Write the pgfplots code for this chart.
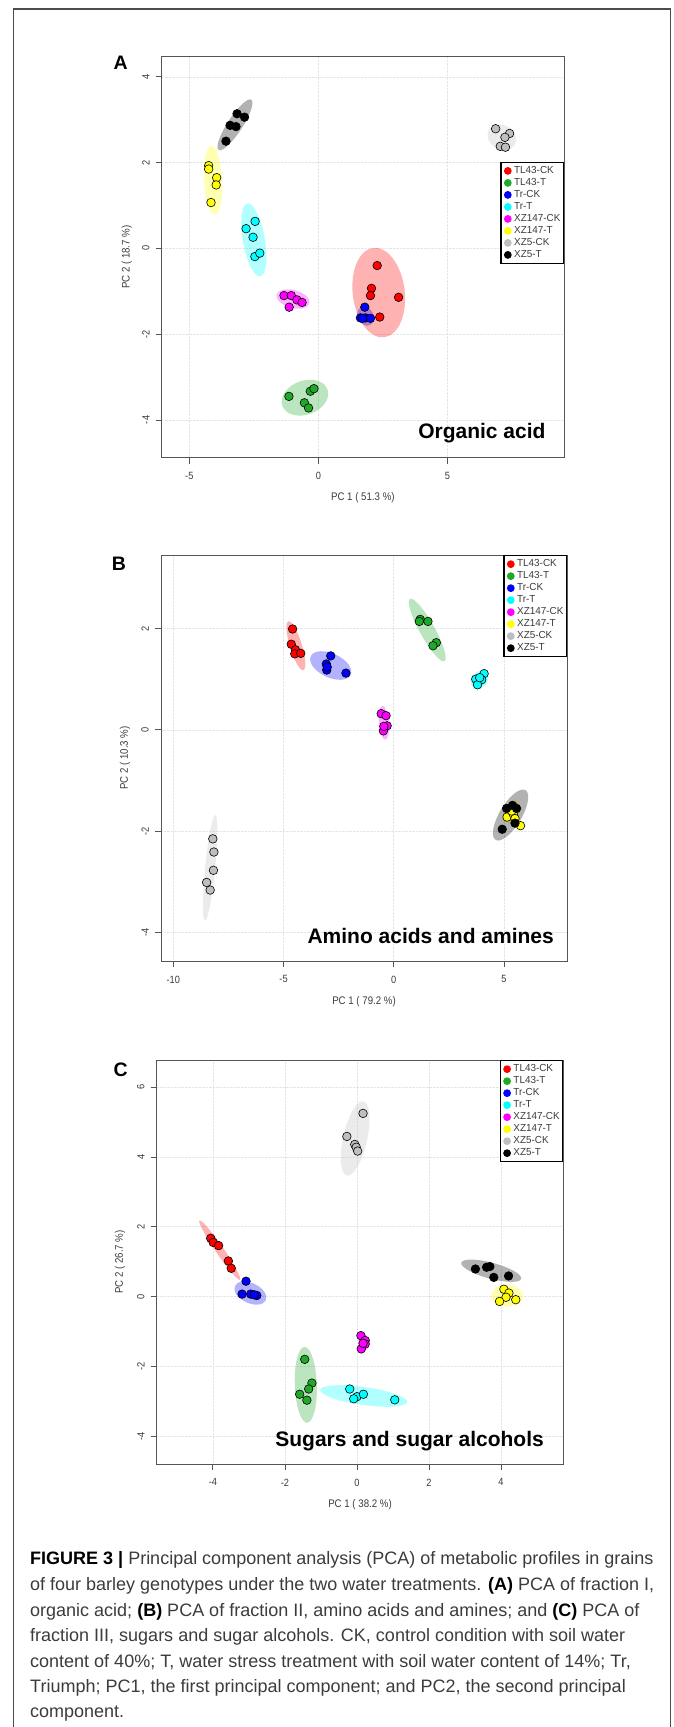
\documentclass[border=0pt]{standalone}
\usepackage{pgfplots}
\pgfplotsset{compat=1.18}
\usepackage{fontspec}
\setmainfont{Liberation Sans}
\newfontfamily\narrowfont[FakeStretch=0.88]{Liberation Sans}
\newfontfamily\legfont[FakeStretch=0.97]{Liberation Sans}
\definecolor{grp1}{RGB}{255,0,0}
\definecolor{grp2}{RGB}{30,170,40}
\definecolor{grp3}{RGB}{0,0,255}
\definecolor{grp4}{RGB}{0,255,255}
\definecolor{grp5}{RGB}{255,0,255}
\definecolor{grp6}{RGB}{255,255,0}
\definecolor{grp7}{RGB}{190,190,190}
\definecolor{grp8}{RGB}{0,0,0}
\definecolor{axgray}{RGB}{85,85,85}
\definecolor{txtgray}{RGB}{60,60,60}

\pgfplotsset{
 pcastyle/.style={
  scale only axis, anchor=south west,
  axis line style={draw=axgray, line width=0.9pt},
  tick pos=left, tick align=outside, major tick length=6pt,
  tick style={draw=axgray, line width=0.8pt},
  grid=major, major grid style={draw=black!10, densely dotted, line width=0.6pt},
  tick label style={font=\narrowfont\fontsize{10.5}{12}\selectfont, text=txtgray},
  yticklabel style={rotate=90, anchor=south, inner sep=0pt},
  xticklabel style={anchor=north, inner sep=0pt},
  xticklabel shift=8.5pt, yticklabel shift=6pt,
  label style={font=\narrowfont\fontsize{11}{13}\selectfont, text=txtgray},
  xlabel style={anchor=center},
  ylabel style={anchor=center},
  legend style={draw=black, line width=1.3pt, fill=white,
    font=\legfont\fontsize{10.2}{12}\selectfont, text=txtgray,
    inner xsep=3pt, inner ysep=2.5pt, row sep=0pt, column sep=2.5pt,
    nodes={inner sep=0pt, text height=8.2pt, text depth=3.8pt}},
  legend cell align=left,
  legend image code/.code={\fill (0pt,0pt) circle (3.2pt);},
 }
}
\newcommand\ellip[6]{\addplot[forget plot, only marks, mark=*, mark size=1pt,
  mark options={draw opacity=0, fill=#1, fill opacity=0.3, rotate=#4, xscale=#5, yscale=#6}]
  coordinates {(#2,#3)};}
\newcommand\pts[2]{\addplot[forget plot, only marks, mark=*, mark size=4.3pt,
  mark options={draw=black, line width=0.6pt, fill=#1}] coordinates {#2};}
\newcommand\legs{%
  \addlegendimage{grp1}\addlegendentry{TL43-CK}
  \addlegendimage{grp2}\addlegendentry{TL43-T}
  \addlegendimage{grp3}\addlegendentry{Tr-CK}
  \addlegendimage{grp4}\addlegendentry{Tr-T}
  \addlegendimage{grp5}\addlegendentry{XZ147-CK}
  \addlegendimage{grp6}\addlegendentry{XZ147-T}
  \addlegendimage{grp7}\addlegendentry{XZ5-CK}
  \addlegendimage{grp8}\addlegendentry{XZ5-T}}

\begin{document}
\begin{tikzpicture}
\useasboundingbox (0,0) rectangle (673pt,-1727pt);
\fill[white] (0,0) rectangle (673pt,-1727pt);
\draw[line width=1.3pt, draw=black!70] (13.3pt,-1727pt) -- (13.3pt,-9pt) -- (670.5pt,-9pt) -- (670.5pt,-1727pt);

% ---------------- Panel A ----------------
\begin{axis}[pcastyle, at={(161.7pt,-457.7pt)}, width=402.3pt, height=401pt,
  xmin=-6.07, xmax=9.52, ymin=-4.88, ymax=4.47,
  xtick={-5,0,5}, xticklabels={-5,0,5},
  ytick={-4,-2,0,2,4}, yticklabels={-4,-2,0,2,4},
  xlabel={PC 1 ( 51.3 \%)}, ylabel={PC 2 ( 18.7 \%)},
  xlabel style={at={(axis description cs:0.5,-0.0998)}},
  ylabel style={at={(axis description cs:-0.087,0.5)}},
  legend style={at={(1,0.738)}, anchor=north east}]
\legs
\ellip{grp1}{2.34}{-1.03}{97}{45}{26}
\ellip{grp2}{-0.52}{-3.48}{20}{24}{17}
\ellip{grp3}{1.83}{-1.58}{-60}{10}{8}
\ellip{grp4}{-2.50}{0.20}{100}{37}{11}
\ellip{grp5}{-0.98}{-1.18}{-15}{17}{9}
\ellip{grp6}{-4.08}{1.59}{93}{34.5}{9}
\ellip{grp7}{7.11}{2.59}{-30}{15}{12}
\ellip{grp8}{-3.23}{2.88}{57}{30}{7.5}
\pts{grp1}{(2.28,-0.40)(2.06,-0.93)(2.02,-1.10)(3.11,-1.14)(2.38,-1.60)}
\pts{grp2}{(-1.14,-3.45)(-0.54,-3.60)(-0.38,-3.72)(-0.31,-3.33)(-0.17,-3.27)}
\pts{grp3}{(1.80,-1.37)(1.63,-1.62)(1.83,-1.62)(2.02,-1.63)(1.71,-1.63)}
\pts{grp4}{(-2.80,0.46)(-2.45,0.63)(-2.53,0.26)(-2.46,-0.19)(-2.27,-0.11)}
\pts{grp5}{(-1.33,-1.10)(-1.05,-1.10)(-0.83,-1.20)(-0.63,-1.26)(-1.13,-1.37)}
\pts{grp6}{(-4.25,1.93)(-4.25,1.85)(-3.94,1.65)(-3.96,1.48)(-4.16,1.07)}
\pts{grp7}{(6.87,2.79)(7.41,2.68)(7.23,2.59)(7.05,2.38)(7.25,2.36)}
\pts{grp8}{(-3.58,2.50)(-3.42,2.87)(-3.19,2.84)(-3.15,3.14)(-2.86,3.06)}
\end{axis}

% ---------------- Panel B ----------------
\begin{axis}[pcastyle, at={(161pt,-961pt)}, width=406pt, height=406pt,
  xmin=-10.56, xmax=7.86, ymin=-4.56, ymax=3.45,
  xtick={-10,-5,0,5}, xticklabels={-10,-5,0,5},
  ytick={-4,-2,0,2}, yticklabels={-4,-2,0,2},
  xlabel={PC 1 ( 79.2 \%)}, ylabel={PC 2 ( 10.3 \%)},
  xlabel style={at={(axis description cs:0.5,-0.100)}},
  ylabel style={at={(axis description cs:-0.0887,0.5)}},
  legend style={at={(1,1)}, anchor=north east}]
\legs
\ellip{grp1}{-4.44}{1.66}{107}{25.6}{6}
\ellip{grp2}{1.52}{1.97}{119}{35.6}{7.5}
\ellip{grp3}{-2.86}{1.27}{-25}{22}{12}
\ellip{grp4}{3.89}{0.99}{45}{10}{8}
\ellip{grp5}{-0.45}{0.14}{95}{17}{5}
\ellip{grp6}{5.35}{-1.61}{60}{12}{8}
\ellip{grp7}{-8.33}{-2.72}{84.4}{53}{5}
\ellip{grp8}{5.30}{-1.68}{59}{29}{11}
\pts{grp1}{(-4.59,1.99)(-4.65,1.69)(-4.46,1.58)(-4.49,1.50)(-4.22,1.51)}
\pts{grp2}{(1.20,2.18)(1.55,2.14)(1.16,2.14)(1.93,1.72)(1.78,1.66)}
\pts{grp3}{(-2.86,1.46)(-3.06,1.30)(-3.04,1.18)(-2.17,1.12)(-3.02,1.24)}
\pts{grp4}{(3.72,1.00)(4.10,1.11)(3.99,0.99)(3.80,0.89)(3.90,1.03)}
\pts{grp5}{(-0.57,0.32)(-0.35,0.28)(-0.30,0.08)(-0.47,-0.02)(-0.45,0.07)}
\pts{grp6}{(5.14,-1.72)(5.75,-1.89)(5.42,-1.66)(5.35,-1.60)(5.50,-1.75)}
\pts{grp7}{(-8.21,-2.15)(-8.16,-2.41)(-8.18,-2.77)(-8.49,-3.01)(-8.33,-3.16)}
\pts{grp8}{(5.12,-1.55)(5.39,-1.49)(5.57,-1.55)(5.50,-1.84)(4.92,-1.96)}
\end{axis}

% ---------------- Panel C ----------------
\begin{axis}[pcastyle, at={(156.7pt,-1464pt)}, width=406.6pt, height=404pt,
  xmin=-5.56, xmax=5.73, ymin=-4.80, ymax=6.78,
  xtick={-4,-2,0,2,4}, xticklabels={-4,-2,0,2,4},
  ytick={-4,-2,0,2,4,6}, yticklabels={-4,-2,0,2,4,6},
  xlabel={PC 1 ( 38.2 \%)}, ylabel={PC 2 ( 26.7 \%)},
  xlabel style={at={(axis description cs:0.5,-0.1015)}},
  ylabel style={at={(axis description cs:-0.090,0.5)}},
  legend style={at={(1,1)}, anchor=north east}]
\legs
\ellip{grp1}{-3.81}{1.33}{124.4}{36}{4}
\ellip{grp2}{-1.42}{-2.53}{92}{38}{11}
\ellip{grp3}{-2.96}{0.10}{-25}{17}{10}
\ellip{grp4}{0.19}{-2.85}{-8}{44}{9}
\ellip{grp5}{0.18}{-1.31}{95}{9}{5}
\ellip{grp6}{4.17}{0.02}{0}{16}{11}
\ellip{grp7}{-0.05}{4.53}{77.4}{38}{12}
\ellip{grp8}{3.73}{0.74}{-15}{31}{8}
\pts{grp1}{(-4.06,1.67)(-3.99,1.55)(-3.84,1.46)(-3.57,1.02)(-3.49,0.81)}
\pts{grp2}{(-1.45,-1.80)(-1.25,-2.48)(-1.34,-2.65)(-1.59,-2.80)(-1.39,-2.97)}
\pts{grp3}{(-3.08,0.44)(-3.19,0.07)(-2.95,0.07)(-2.78,0.03)(-2.85,0.05)}
\pts{grp4}{(-0.20,-2.65)(0.00,-2.87)(-0.09,-2.93)(0.18,-2.80)(1.05,-2.96)}
\pts{grp5}{(0.11,-1.12)(0.23,-1.26)(0.23,-1.36)(0.12,-1.50)(0.17,-1.34)}
\pts{grp6}{(4.08,0.21)(4.22,0.10)(4.14,-0.02)(3.96,-0.14)(4.41,-0.09)}
\pts{grp7}{(0.17,5.25)(-0.28,4.59)(-0.06,4.36)(-0.02,4.28)(0.02,4.17)}
\pts{grp8}{(3.29,0.79)(3.60,0.84)(3.69,0.86)(3.80,0.55)(4.21,0.59)}
\end{axis}

% panel letters and titles
\node[font=\bfseries\fontsize{19.5}{22}\selectfont, inner sep=0] at (120.7pt,-62.3pt) {A};
\node[font=\bfseries\fontsize{19.5}{22}\selectfont, inner sep=0] at (119pt,-564pt) {B};
\node[font=\bfseries\fontsize{19.5}{22}\selectfont, inner sep=0] at (120.7pt,-1070pt) {C};
\node[anchor=base east, font=\bfseries\fontsize{21}{25}\selectfont, inner sep=0] at (545.7pt,-438.3pt) {Organic acid};
\node[anchor=base east, font=\bfseries\fontsize{21}{25}\selectfont, inner sep=0] at (554pt,-943.3pt) {Amino acids and amines};
\node[anchor=base east, font=\bfseries\fontsize{21}{25}\selectfont, inner sep=0] at (544pt,-1446pt) {Sugars and sugar alcohols};

% caption
\begin{scope}[every node/.style={anchor=base west, inner sep=0, font=\fontsize{18}{22}\selectfont, text=txtgray}]
\node at (30pt,-1564.5pt) {\textcolor{black}{\textbf{FIGURE 3 |}} Principal component analysis (PCA) of metabolic profiles in grains};
\node at (30pt,-1590pt) {of four barley genotypes under the two water treatments. \textcolor{black}{\textbf{(A)}} PCA of fraction I,};
\node at (30pt,-1616pt) {organic acid; \textcolor{black}{\textbf{(B)}} PCA of fraction II, amino acids and amines; and \textcolor{black}{\textbf{(C)}} PCA of};
\node at (30pt,-1641.7pt) {fraction III, sugars and sugar alcohols. CK, control condition with soil water};
\node at (30pt,-1667pt) {content of 40\%; T, water stress treatment with soil water content of 14\%; Tr,};
\node at (30pt,-1692pt) {Triumph; PC1, the first principal component; and PC2, the second principal};
\node at (30pt,-1717pt) {component.};
\end{scope}
\end{tikzpicture}
\end{document}
